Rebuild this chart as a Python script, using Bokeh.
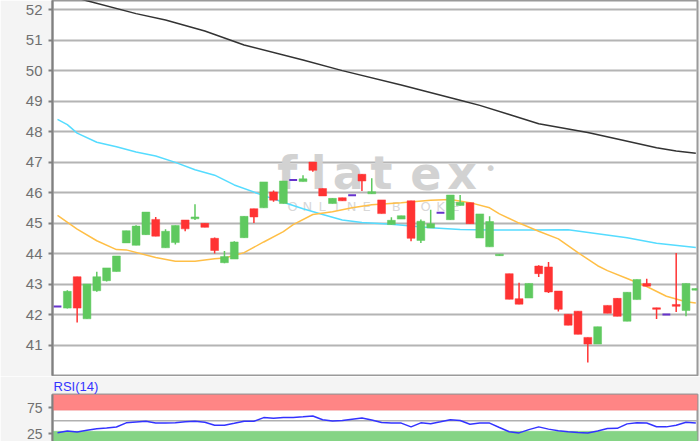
from bokeh.plotting import figure
from bokeh.layouts import column
from bokeh.models import Range1d, FixedTicker, BoxAnnotation, Span, Label, ColumnDataSource
from bokeh.core.properties import value
from bokeh.embed import file_html
from bokeh.resources import INLINE

# ---------------- data ----------------
price_open = [42.26, 42.21, 43.24, 41.86, 42.78, 43.11, 43.41, 44.35, 44.27, 44.62,
              45.12, 44.19, 44.36, 45.10, 45.14, 44.99, 44.50, 43.70, 43.82, 44.52,
              45.47, 45.50, 46.02, 45.64, 46.41, 46.36, 47.00, 46.13, 45.64, 45.83,
              45.91, 46.60, 45.96, 45.76, 44.95, 45.13, 45.73, 44.43, 44.84, 45.34,
              45.11, 45.58, 45.67, 44.51, 44.22, 43.93, 43.34, 42.52, 42.54, 43.59,
              43.56, 42.77, 42.01, 42.11, 41.25, 41.03, 42.30, 42.53, 41.78, 42.49,
              43.02, 42.22, 42.00, 42.33, 42.13, 42.80]
price_high = [42.26, 42.80, 43.24, 43.00, 43.40, 43.53, 43.92, 44.75, 44.93, 45.36,
              45.20, 44.80, 44.92, 45.10, 45.62, 44.99, 44.53, 44.08, 44.40, 45.22,
              45.47, 46.35, 46.07, 46.38, 46.41, 46.57, 47.00, 46.13, 45.81, 45.83,
              45.91, 46.60, 46.47, 45.76, 45.19, 45.24, 45.73, 45.12, 45.44, 45.34,
              45.92, 45.92, 45.67, 45.30, 45.22, 43.98, 43.34, 43.04, 43.02, 43.62,
              43.72, 42.77, 42.01, 42.11, 41.25, 41.60, 42.30, 42.53, 42.73, 43.15,
              43.17, 42.22, 42.00, 44.02, 43.02, 42.85]
price_low = [42.26, 42.20, 41.74, 41.86, 42.75, 43.08, 43.41, 44.35, 44.27, 44.62,
             44.57, 44.19, 44.30, 44.73, 45.10, 44.86, 44.00, 43.68, 43.82, 44.52,
             45.00, 45.50, 45.70, 45.64, 46.41, 46.36, 46.68, 45.89, 45.64, 45.73,
             45.91, 46.05, 45.96, 45.31, 44.95, 45.13, 44.40, 44.35, 44.84, 45.34,
             45.11, 45.58, 44.98, 44.51, 44.22, 43.93, 42.50, 42.34, 42.54, 43.23,
             42.71, 42.10, 41.65, 41.35, 40.43, 41.03, 42.04, 41.94, 41.78, 42.49,
             42.93, 41.85, 42.00, 42.08, 41.94, 42.80]
price_close = [42.26, 42.76, 42.21, 43.00, 43.24, 43.53, 43.92, 44.75, 44.90, 45.36,
               44.57, 44.73, 44.92, 44.81, 45.20, 44.86, 44.10, 43.90, 44.38, 45.22,
               45.20, 46.35, 45.75, 46.38, 46.41, 46.45, 46.73, 45.89, 45.81, 45.73,
               45.91, 46.38, 46.03, 45.31, 45.09, 45.24, 44.50, 45.06, 44.98, 45.34,
               45.92, 45.68, 44.98, 45.30, 45.05, 43.98, 42.50, 42.34, 43.02, 43.34,
               42.74, 42.17, 41.65, 41.35, 41.03, 41.60, 42.04, 41.94, 42.73, 43.15,
               42.93, 42.17, 42.00, 42.27, 43.02, 42.85]

ma_long_idx = [0, 3, 8, 11, 15, 19, 25, 29, 35, 41, 43, 46, 49, 54, 57, 61, 63, 65]
ma_long_val = [52.56, 52.29, 51.87, 51.66, 51.30, 50.84, 50.35, 50.00, 49.53, 49.03,
               48.86, 48.56, 48.26, 47.97, 47.76, 47.47, 47.36, 47.29]

ma_mid_idx = [0, 1, 2, 4, 6, 8, 10, 12, 14, 16, 18, 21, 23, 25, 27, 29, 31, 34, 38,
              41, 44, 48, 52, 55, 58, 61, 65]
ma_mid_val = [48.40, 48.23, 47.95, 47.65, 47.50, 47.33, 47.20, 46.99, 46.75, 46.57,
              46.25, 45.90, 45.68, 45.47, 45.28, 45.10, 45.02, 44.96, 44.85, 44.79,
              44.77, 44.77, 44.78, 44.65, 44.52, 44.34, 44.20]

ma_short_idx = [0, 2, 4, 6, 7, 10, 12, 14, 16, 17, 19, 21, 23, 24, 26, 28, 30, 32, 35,
                38, 40, 42, 44, 45, 47, 49, 51, 53, 55, 56, 58, 60, 62, 64, 65]
ma_short_val = [45.25, 44.80, 44.42, 44.13, 44.12, 43.87, 43.75, 43.75, 43.83, 43.85,
                44.03, 44.38, 44.72, 44.95, 45.28, 45.37, 45.50, 45.60, 45.67, 45.75,
                45.77, 45.67, 45.50, 45.30, 45.00, 44.73, 44.48, 44.03, 43.60, 43.44,
                43.18, 42.92, 42.60, 42.42, 42.38]

rsi_values = [27, 30.5, 28.5, 32, 34.5, 36, 38, 46, 47.5, 49,
              45.5, 45.5, 46, 48, 49, 47, 41.4, 41.4, 45, 49,
              49, 56, 54.5, 56.3, 56.3, 57.5, 59, 52, 49.5, 50.3,
              53, 55, 51.5, 46.5, 45.5, 45.5, 38.3, 46, 44.4, 48,
              52, 50.4, 43.4, 45.5, 45.5, 37, 29, 26.8, 33, 38.3,
              34, 31, 29, 27.5, 26.5, 30.6, 35.3, 35.5, 44, 46,
              45.6, 38.5, 38.3, 41.5, 47, 45.5]

price_ticks = [41, 42, 43, 44, 45, 46, 47, 48, 49, 50, 51, 52]
rsi_ticks = [25, 75]
rsi_bands = [30, 50, 70]
rsi_title = "RSI(14)"
wm_word = "flatex"
wm_sub = "ONLINE BROKER"

# ---------------- styling ----------------
GREEN, RED, FLAT = "#5fc95f", "#ff3333", "#6633cc"
BG = "#f4f4f4"
LABEL_FONT = "Liberation Sans"
WM = "#d2d2d2"

n = len(price_open)
idx = list(range(n))
colors = [GREEN if c > o else (RED if c < o else FLAT) for o, c in zip(price_open, price_close)]

x_range = Range1d(-0.51, 65.17)

main = figure(width=700, height=376, x_range=x_range, y_range=Range1d(40.0, 52.3),
              x_axis_location=None, output_backend="svg", toolbar_location=None,
              min_border_left=52, min_border_right=3, min_border_top=0, min_border_bottom=1,
              background_fill_color="white", border_fill_color=BG)
main.outline_line_color = "#9a9a9a"
main.outline_line_width = 2
main.xgrid.visible = False
main.ygrid.grid_line_color = "#b4b4b4"
main.ygrid.grid_line_width = 2
main.ygrid.ticker = FixedTicker(ticks=price_ticks)
ya = main.yaxis[0]
ya.ticker = FixedTicker(ticks=price_ticks)
ya.axis_line_color = "#808080"
ya.axis_line_width = 2
ya.major_tick_line_color = "#808080"
ya.major_tick_line_width = 2
ya.major_tick_out = 4
ya.major_tick_in = 0
ya.minor_tick_line_color = None
ya.major_label_text_font = LABEL_FONT
ya.major_label_text_font_size = "15px"
ya.major_label_text_color = "#707070"
ya.major_label_standoff = 6

# watermark
wm_x = [23.4, 26.6, 29.6, 33.0, 37.5, 41.2]
for ch, xx in zip(wm_word, wm_x):
    main.add_layout(Label(x=xx, y=46.64, text=ch, text_align="center", text_baseline="alphabetic",
                          text_font="DejaVu Sans", text_font_style="bold", text_font_size="46px",
                          text_color=WM, level="underlay"))
main.add_layout(Label(x=44.1, y=46.8, text="•", text_align="center", text_baseline="middle",
                      text_font="DejaVu Sans", text_font_size="20px", text_color=WM,
                      level="underlay"))
for k, ch in enumerate(wm_sub):
    if ch == " ":
        continue
    main.add_layout(Label(x=23.93 + 1.507 * k, y=45.53, text=ch, text_align="center",
                          text_baseline="middle", text_font="DejaVu Sans", text_font_size="13px",
                          text_color="#d8d8d8", level="underlay"))

# moving averages
main.line(ma_long_idx, ma_long_val, line_color="#333333", line_width=1.5)
main.line(ma_mid_idx, ma_mid_val, line_color="#55dcff", line_width=1.5)
main.line(ma_short_idx, ma_short_val, line_color="#ffbf47", line_width=1.5)

# candles
src = ColumnDataSource(dict(x=idx, l=price_low, h=price_high, col=colors))
main.segment(x0="x", y0="l", x1="x", y1="h", line_color="col", line_width=1.5, source=src)
body_rows = [i for i in idx if price_open[i] != price_close[i]]
flat_rows = [i for i in idx if price_open[i] == price_close[i]]
bsrc = ColumnDataSource(dict(x=[idx[i] for i in body_rows],
                             top=[max(price_open[i], price_close[i]) for i in body_rows],
                             bot=[min(price_open[i], price_close[i]) for i in body_rows],
                             col=[colors[i] for i in body_rows]))
main.vbar(x="x", width=0.8, top="top", bottom="bot", fill_color="col", line_color="col",
          line_width=0.5, source=bsrc)
fsrc = ColumnDataSource(dict(x=[idx[i] for i in flat_rows],
                             y=[price_close[i] for i in flat_rows],
                             col=[colors[i] for i in flat_rows]))
main.rect(x="x", y="y", width=0.8, height=2, height_units="screen", fill_color="col",
          line_color=None, source=fsrc)

# ---------------- RSI panel ----------------
rsi = figure(width=700, height=65, x_range=x_range, y_range=Range1d(10.4, 100),
             x_axis_location=None, output_backend="svg", toolbar_location=None,
             title=rsi_title, min_border_left=52, min_border_right=3, min_border_top=0,
             min_border_bottom=0, background_fill_color="white", border_fill_color=BG)
rsi.title.text_color = "#3333ff"
rsi.title.text_font = LABEL_FONT
rsi.title.text_font_size = "13px"
rsi.title.text_font_style = "normal"
rsi.title.standoff = 1
rsi.title.offset = 1
rsi.title.align = "left"
rsi.outline_line_color = "#9a9a9a"
rsi.outline_line_width = 2
rsi.xgrid.visible = False
rsi.ygrid.visible = False
ra = rsi.yaxis[0]
ra.ticker = FixedTicker(ticks=rsi_ticks)
ra.axis_line_color = "#808080"
ra.axis_line_width = 2
ra.major_tick_line_color = "#808080"
ra.major_tick_line_width = 2
ra.major_tick_out = 4
ra.major_tick_in = 0
ra.minor_tick_line_color = None
ra.major_label_text_font = LABEL_FONT
ra.major_label_text_font_size = "14px"
ra.major_label_text_color = "#707070"
ra.major_label_standoff = 6

rsi.add_layout(BoxAnnotation(bottom=rsi_bands[2], fill_color="#ff8585", fill_alpha=1.0,
                             line_color="#e06a6a", line_width=1, level="underlay"))
rsi.add_layout(BoxAnnotation(top=rsi_bands[0], fill_color="#85d485", fill_alpha=1.0,
                             line_color="#62b862", line_width=1, level="underlay"))
rsi.add_layout(Span(location=rsi_bands[1], dimension="width", line_color="#b0b0b0",
                    line_width=1.5, level="underlay"))
rsi.line(idx, rsi_values, line_color="#3333ff", line_width=1.5)

layout = column(main, rsi, spacing=0)
open("out.html", "w").write(file_html(layout, INLINE))
